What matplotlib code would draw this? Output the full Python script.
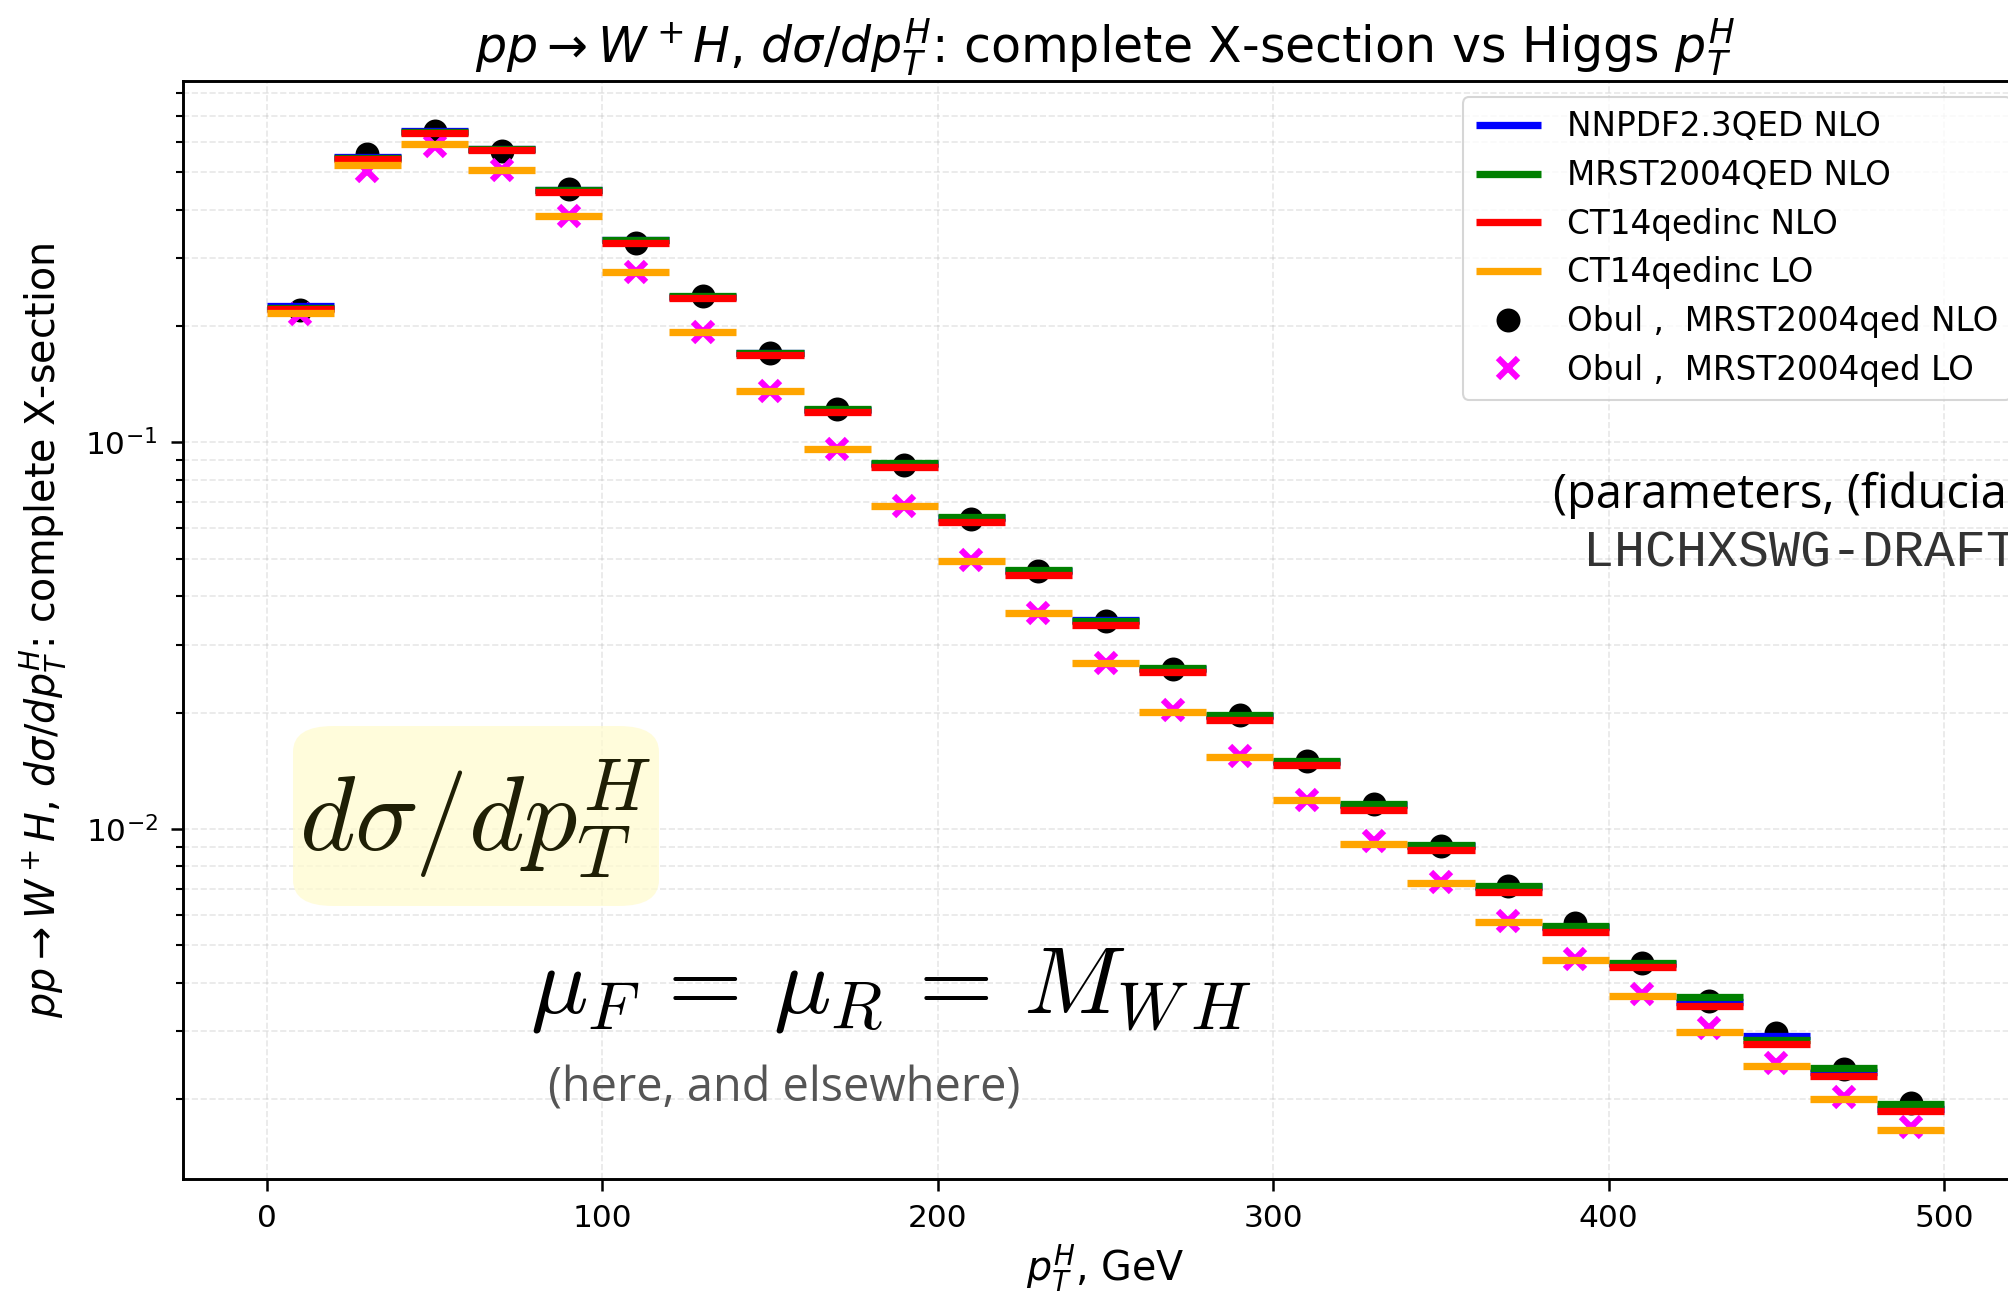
import matplotlib
matplotlib.use("Agg")
import matplotlib.pyplot as plt
from matplotlib.patches import FancyBboxPatch
import numpy as np

# bins of Higgs pT (GeV)
edges = np.arange(0, 520, 20)
centers = edges[:-1] + 10

# d(sigma)/d(pT) values
nnpdf_nlo = [0.225, 0.548, 0.640, 0.575, 0.450, 0.333, 0.238, 0.170, 0.1215, 0.0880,
             0.0638, 0.0465, 0.0348, 0.0260, 0.0196, 0.0149, 0.0115, 0.00905, 0.00708,
             0.00557, 0.00448, 0.00356, 0.00291, 0.00235, 0.00189]
mrst_nlo = [0.223, 0.545, 0.636, 0.573, 0.451, 0.333, 0.239, 0.1707, 0.1218, 0.0883,
            0.0640, 0.0467, 0.0346, 0.0261, 0.0197, 0.0150, 0.0116, 0.00908, 0.00711,
            0.00560, 0.00451, 0.00367, 0.00284, 0.00241, 0.00194]
ct14_nlo = [0.222, 0.542, 0.632, 0.570, 0.445, 0.329, 0.236, 0.168, 0.120, 0.0864,
            0.0622, 0.0455, 0.0337, 0.0254, 0.0191, 0.0146, 0.0112, 0.00881, 0.00688,
            0.00542, 0.00440, 0.00348, 0.00277, 0.00229, 0.00186]
ct14_lo = [0.216, 0.521, 0.590, 0.508, 0.385, 0.2754, 0.1933, 0.1357, 0.0959, 0.0684,
           0.0494, 0.0361, 0.0268, 0.0201, 0.01537, 0.01185, 0.00917, 0.00724, 0.00574,
           0.00457, 0.00369, 0.00299, 0.002433, 0.002004, 0.00166]
obul_nlo = [0.2195, 0.556, 0.641, 0.568, 0.453, 0.329, 0.239, 0.1707, 0.1218, 0.0872,
            0.0635, 0.0466, 0.0345, 0.0260, 0.0197, 0.0150, 0.0116, 0.00906, 0.00710,
            0.00570, 0.00450, 0.00359, 0.00297, 0.00239, 0.00196]
obul_lo = [0.2143, 0.503, 0.585, 0.508, 0.385, 0.276, 0.193, 0.1357, 0.0959, 0.0686,
           0.0496, 0.0363, 0.0269, 0.0203, 0.0154, 0.0119, 0.0093, 0.0073, 0.00578,
           0.0046, 0.00375, 0.00305, 0.00248, 0.00203, 0.00169]

fig = plt.figure(figsize=(2008 / 150, 1295 / 150), dpi=150)
# axes run past the right edge of the picture (reference is cropped)
ax = fig.add_axes([0.0911, 0.0896, 0.9189, 0.8479])

ax.plot(centers, obul_nlo, 'o', color='black', ms=10.5, zorder=2,
        label='Obul ,  MRST2004qed NLO')
ax.plot(centers, obul_lo, 'x', color='magenta', ms=10, mew=3, zorder=2.5,
        label='Obul ,  MRST2004qed LO')

ax.hlines(nnpdf_nlo, edges[:-1], edges[1:], colors='blue', lw=3.5, zorder=3, label='NNPDF2.3QED NLO')
ax.hlines(mrst_nlo, edges[:-1], edges[1:], colors='green', lw=3.5, zorder=3.1, label='MRST2004QED NLO')
ax.hlines(ct14_nlo, edges[:-1], edges[1:], colors='red', lw=3.5, zorder=3.2, label='CT14qedinc NLO')
ax.hlines(ct14_lo, edges[:-1], edges[1:], colors='orange', lw=3.5, zorder=3.3, label='CT14qedinc LO')

ax.set_yscale('log')
ax.set_xlim(-25, 525)
ax.set_ylim(0.001243, 0.8615)
ax.grid(True, which='both', linestyle='--', alpha=0.3)
ax.tick_params(axis='both', which='major', labelsize=15, length=5.6, width=1.2, pad=6.5)
ax.tick_params(axis='y', which='minor', length=3.5, width=1)
for s in ax.spines.values():
    s.set_linewidth(1.4)

ax.set_title(r'$pp \to W^+H$, $d\sigma/dp_T^H$: complete X-section vs Higgs $p_T^H$',
             fontsize=23.5, pad=9)
ax.set_xlabel(r'$p_T^H$, GeV', fontsize=19)
ax.xaxis.set_label_coords(0.5, -0.058)
ax.set_ylabel(r'$pp \to W^+H$, $d\sigma/dp_T^H$: complete X-section', fontsize=19, labelpad=8)

h, l = ax.get_legend_handles_labels()
order = [2, 3, 4, 5, 0, 1]
ax.legend([h[i] for i in order], [l[i] for i in order], loc='upper right', fontsize=15.7,
          labelspacing=0.48)

# overlays
box = FancyBboxPatch((293 / 2008, 1 - 906 / 1295), 366 / 2008, 180 / 1295,
                     boxstyle='round,pad=0,rounding_size=0.02', transform=fig.transFigure,
                     facecolor='#fffbd0', edgecolor='none', alpha=0.75, zorder=5)
fig.patches.append(box)
fig.text(0.2366, 0.3676, r'$d\sigma/dp_T^H$', fontsize=51, math_fontfamily='cm',
         color='#1f1f05', ha='center', va='center', zorder=6)
fig.text(0.4437, 0.2365, r'$\mu_F \,=\, \mu_R \,=\, M_{W\,H}$', fontsize=46, math_fontfamily='cm',
         color='black', ha='center', va='center')
fig.text(0.3904, 0.159, '(here, and elsewhere)', fontsize=22.5, family='Open Sans',
         color='#555555', ha='center', va='center')
fig.text(0.7734, 0.6178, '(parameters, (fiducial cuts))', fontsize=22.6, family='Open Sans',
         color='black', ha='left', va='center')
fig.text(0.7883, 0.573, 'LHCHXSWG-DRAFT-INT', fontsize=24.8, family='Liberation Mono',
         color='#333333', ha='left', va='center')

fig.savefig('out.png', dpi=150)
